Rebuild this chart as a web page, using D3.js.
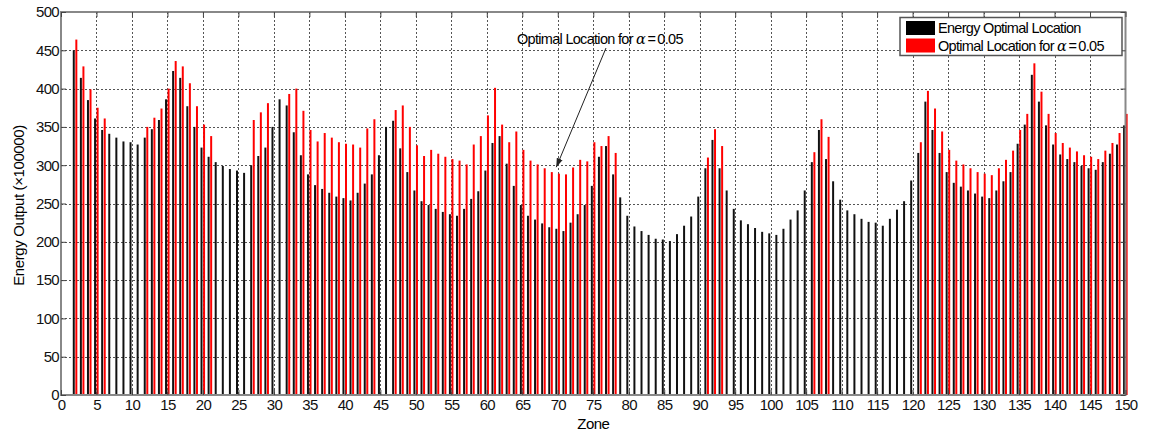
<!DOCTYPE html>
<html>
  <head>
    <script type="text/javascript" src="https://cdn.jsdelivr.net/npm/d3@7"></script>
    <style type="text/css">

html, body {
  margin: 0;
  background: #fff;
}

svg {
  display: block;
  font-family: "Liberation Sans", Arial, sans-serif;
}

.grid line {
  stroke: #555;
  stroke-dasharray: 2,2;
  stroke-width: 1;
}

.tick text {
  font-size: 15px;
  letter-spacing: -0.7px;
}

    </style>
  </head>
  <body>
    <div id="chart"></div>
    <script type="text/javascript">

// zones 1..150
var zones = d3.range(1, 151);

// Energy Optimal Location (black)
var energyOptimal = [
  0, 450, 414, 385, 361, 346, 341, 336, 331, 330,
  327, 336, 347, 359, 386, 423, 414, 377, 350, 323,
  311, 304, 299, 295, 293, 290, 300, 312, 323, 350,
  386, 378, 343, 313, 288, 274, 269, 264, 259, 257,
  254, 264, 276, 288, 313, 350, 358, 322, 291, 267,
  253, 248, 243, 239, 236, 234, 243, 256, 266, 293,
  329, 338, 302, 273, 248, 234, 229, 224, 219, 217,
  214, 225, 236, 248, 273, 311, 325, 288, 258, 234,
  220, 214, 209, 204, 203, 201, 210, 221, 233, 259,
  296, 333, 296, 267, 243, 228, 223, 218, 213, 211,
  209, 217, 229, 241, 267, 304, 346, 308, 279, 255,
  241, 236, 230, 226, 225, 221, 230, 242, 253, 280,
  316, 383, 346, 316, 291, 277, 272, 267, 263, 259,
  257, 267, 279, 291, 328, 353, 418, 383, 352, 327,
  314, 308, 304, 299, 296, 294, 304, 315, 327, 352
];

// Optimal Location for alpha = 0.05 (red), 0 where no red bar is drawn
var alphaOptimal = [
  0, 464, 429, 399, 375, 361, 0, 0, 0, 0,
  0, 350, 362, 374, 400, 436, 429, 407, 377, 353,
  338, 0, 0, 0, 0, 0, 359, 369, 381, 0,
  0, 393, 400, 371, 346, 331, 342, 336, 330, 328,
  327, 323, 348, 360, 0, 0, 372, 378, 350, 326,
  312, 320, 315, 311, 308, 306, 301, 327, 338, 365,
  401, 353, 330, 344, 320, 306, 301, 296, 291, 289,
  288, 297, 307, 305, 330, 325, 338, 316, 0, 0,
  0, 0, 0, 0, 0, 0, 0, 0, 0, 0,
  310, 347, 325, 0, 0, 0, 0, 0, 0, 0,
  0, 0, 0, 0, 0, 317, 360, 337, 0, 0,
  0, 0, 0, 0, 0, 0, 0, 0, 0, 0,
  330, 397, 374, 344, 320, 306, 301, 296, 291, 289,
  287, 296, 307, 319, 346, 367, 433, 396, 367, 342,
  329, 323, 318, 313, 311, 308, 319, 329, 342, 367
];

var xTicks = d3.range(0, 151, 5);
var yTicks = d3.range(0, 501, 50);

var width = 1150,
    height = 433,
    plotLeft = 61,
    plotRight = 1125.5,
    plotTop = 12,
    plotBottom = 395;

var svg = d3.select("#chart").append("svg")
    .attr("width", width)
    .attr("height", height);

var x = d3.scaleLinear().domain([0, 150]).range([plotLeft, plotRight]);
var y = d3.scaleLinear().domain([0, 500]).range([plotBottom, plotTop]);

// dotted grid
var grid = svg.append("g").attr("class", "grid");
grid.selectAll(".gx")
    .data(xTicks.slice(1, -1))
  .enter().append("line")
    .attr("x1", function(d) { return Math.round(x(d)) + 0.5; })
    .attr("x2", function(d) { return Math.round(x(d)) + 0.5; })
    .attr("y1", plotTop)
    .attr("y2", plotBottom);
grid.selectAll(".gy")
    .data(yTicks.slice(1, -1))
  .enter().append("line")
    .attr("y1", function(d) { return Math.round(y(d)) + 0.5; })
    .attr("y2", function(d) { return Math.round(y(d)) + 0.5; })
    .attr("x1", plotLeft)
    .attr("x2", plotRight);

var bw = 0.28;

// black bars
svg.append("g").selectAll("rect")
    .data(zones)
  .enter().append("rect")
    .attr("x", function(z) { return x(z - 0.34); })
    .attr("width", function(z) { return x(z - 0.34 + bw) - x(z - 0.34); })
    .attr("y", function(z, i) { return y(energyOptimal[i]); })
    .attr("height", function(z, i) { return y(0) - y(energyOptimal[i]); })
    .attr("fill", "#111");

// red bars
svg.append("g").selectAll("rect")
    .data(zones)
  .enter().append("rect")
    .attr("x", function(z) { return x(z + 0.02); })
    .attr("width", function(z) { return x(z + 0.02 + bw) - x(z + 0.02); })
    .attr("y", function(z, i) { return y(alphaOptimal[i]); })
    .attr("height", function(z, i) { return y(0) - y(alphaOptimal[i]); })
    .attr("fill", "#f00");

// axes box
svg.append("rect")
    .attr("x", plotLeft)
    .attr("y", plotTop)
    .attr("width", plotRight - plotLeft)
    .attr("height", plotBottom - plotTop)
    .attr("fill", "none")
    .attr("stroke", "#888")
    .attr("stroke-width", 2);

var xAxis = svg.append("g")
    .attr("transform", "translate(0," + plotBottom + ")")
    .call(d3.axisBottom(x).tickValues(xTicks).tickSize(-5).tickPadding(4));
xAxis.select(".domain").remove();
xAxis.selectAll(".tick line").attr("stroke", "#444");

var xAxisTop = svg.append("g")
    .attr("transform", "translate(0," + plotTop + ")")
    .call(d3.axisTop(x).tickValues(xTicks).tickSize(-5).tickFormat(""));
xAxisTop.select(".domain").remove();
xAxisTop.selectAll(".tick line").attr("stroke", "#444");

var yAxis = svg.append("g")
    .attr("transform", "translate(" + plotLeft + ",0)")
    .call(d3.axisLeft(y).tickValues(yTicks).tickSize(-5).tickPadding(2));
yAxis.select(".domain").remove();
yAxis.selectAll(".tick line").attr("stroke", "#444");

var yAxisRight = svg.append("g")
    .attr("transform", "translate(" + plotRight + ",0)")
    .call(d3.axisRight(y).tickValues(yTicks).tickSize(-5).tickFormat(""));
yAxisRight.select(".domain").remove();
yAxisRight.selectAll(".tick line").attr("stroke", "#444");

svg.selectAll(".tick text").attr("fill", "#111");

// axis labels
svg.append("text")
    .attr("x", (plotLeft + plotRight) / 2)
    .attr("y", 429)
    .attr("text-anchor", "middle")
    .attr("font-size", 15)
    .attr("letter-spacing", "-0.6px")
    .text("Zone");

svg.append("text")
    .attr("transform", "translate(24," + ((plotTop + plotBottom) / 2 + 2) + ") rotate(-90)")
    .attr("text-anchor", "middle")
    .attr("font-size", 15)
    .attr("letter-spacing", "-0.4px")
    .text("Energy Output (\u00d7100000)");

// legend
var legend = svg.append("g");
legend.append("rect")
    .attr("x", 900).attr("y", 17.5)
    .attr("width", 222).attr("height", 38)
    .attr("fill", "#fff")
    .attr("stroke", "#555")
    .attr("stroke-width", 1.5);

var legendItems = [
  {color: "#000", label: "Energy Optimal Location", alpha: false},
  {color: "#f00", label: "Optimal Location for ", alpha: true}
];

legendItems.forEach(function(d, i) {
  legend.append("rect")
      .attr("x", 906).attr("y", 21 + i * 17.5)
      .attr("width", 29).attr("height", 14)
      .attr("fill", d.color);
  var t = legend.append("text")
      .attr("x", 938).attr("y", 33 + i * 17.5)
      .attr("font-size", 14.5)
      .attr("letter-spacing", "-0.7px")
      .text(d.label);
  if (d.alpha) {
    t.append("tspan").attr("font-style", "italic").attr("font-family", "DejaVu Serif").text("\u03b1");
    t.append("tspan").text("\u2009=\u20090.05");
  }
});

// annotation
var ann = svg.append("text")
    .attr("x", 517).attr("y", 44)
    .attr("font-size", 14.5)
    .attr("letter-spacing", "-0.7px")
    .text("Optimal Location for ");
ann.append("tspan").attr("font-style", "italic").attr("font-family", "DejaVu Serif").text("\u03b1");
ann.append("tspan").text("\u2009=\u20090.05");

svg.append("defs").append("marker")
    .attr("id", "arrow")
    .attr("viewBox", "0 0 10 10")
    .attr("refX", 10).attr("refY", 5)
    .attr("markerWidth", 9).attr("markerHeight", 9)
    .attr("orient", "auto")
  .append("path")
    .attr("d", "M0,1.5 L10,5 L0,8.5 Z")
    .attr("fill", "#222");

svg.append("line")
    .attr("x1", 606).attr("y1", 48)
    .attr("x2", x(70) - 1.5).attr("y2", y(300) + 2)
    .attr("stroke", "#222")
    .attr("stroke-width", 1)
    .attr("marker-end", "url(#arrow)");

    </script>
  </body>
</html>
